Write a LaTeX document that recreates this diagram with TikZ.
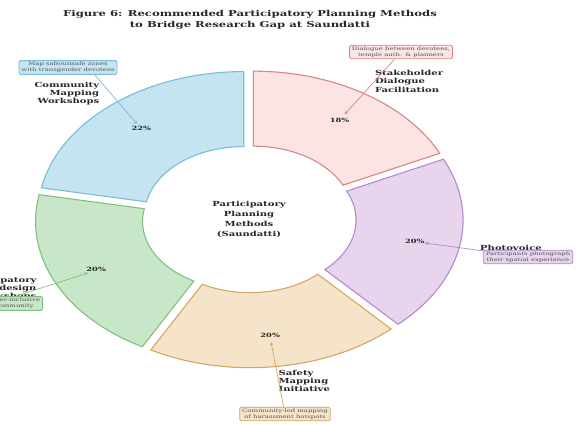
\documentclass[tikz,border=0pt]{standalone}
\usepackage{fontspec}
\setmainfont{DejaVu Serif}[FakeStretch=1.43]
\usetikzlibrary{arrows.meta,calc}
\definecolor{bluef}{HTML}{C3E4F0}\definecolor{bluee}{HTML}{7BBCD6}
\definecolor{pinkf}{HTML}{FCE4E4}\definecolor{pinke}{HTML}{D98585}
\definecolor{purpf}{HTML}{E8D4EC}\definecolor{purpe}{HTML}{B08CCC}
\definecolor{oranf}{HTML}{F6E4CA}\definecolor{orane}{HTML}{D4A660}
\definecolor{greef}{HTML}{C8E6C8}\definecolor{greee}{HTML}{80BF80}
\definecolor{txt}{HTML}{262626}
\definecolor{notetxt}{HTML}{555555}
\newcommand\pieseg[4]{%
  \pgfmathsetmacro\ox{249+8.24*cos(#3)}%
  \pgfmathsetmacro\oy{204+5.72*sin(#3)}%
  \draw[seg,draw=#4e,fill=#4f] ({\ox+206*cos(#1)},{\oy+143*sin(#1)})
    arc[start angle=#1,end angle=#2,x radius=206,y radius=143]
    -- ({\ox+99*cos(#2)},{\oy+68*sin(#2)})
    arc[start angle=#2,end angle=#1,x radius=99,y radius=68] -- cycle;}
\tikzset{
  seg/.style={line width=1.1pt,line join=miter},
  pct/.style={font=\fontsize{5.8}{7}\selectfont\bfseries,text=txt,inner sep=0pt},
  cat/.style={font=\fontsize{7}{8.2}\selectfont\bfseries,text=txt,inner sep=0pt},
  note/.style={font=\fontsize{4.8}{6}\selectfont,text=notetxt,align=center,
    rounded corners=1.5pt,inner xsep=2.5pt,inner ysep=1.5pt,line width=0.8pt},
  arr/.style={line width=0.7pt,-{Straight Barb[length=2.5pt,width=3pt]}},
}
\begin{document}
\begin{tikzpicture}[x=1pt,y=1pt]
\useasboundingbox (0,0) rectangle (586,423);
\coordinate (c) at (249,204);
% wedges
\pieseg{25.2}{90}{57.6}{pink}
\pieseg{-46.8}{25.2}{-10.8}{purp}
\pieseg{-118.8}{-46.8}{-82.8}{oran}
\pieseg{169.2}{241.2}{205.2}{gree}
\pieseg{90}{169.2}{129.6}{blue}
% title
\node[font=\fontsize{8.15}{10.8}\selectfont\bfseries,text=txt,align=center,inner sep=0pt] (title) at (250,403)
  {Figure 6: Recommended Participatory Planning Methods\\to Bridge Research Gap at Saundatti};
% centre
\node[font=\fontsize{7}{10}\selectfont\bfseries,text=txt,align=center,inner sep=0pt] (ctr) at (c)
  {Participatory\\Planning\\Methods\\(Saundatti)};
% percentages
\node[pct] (p1) at ($(c)+(57.6:168.9 and 117.3)$) {18\%};
\node[pct] (p2) at ($(c)+(-10.8:168.9 and 117.3)$) {20\%};
\node[pct] (p3) at ($(c)+(-82.8:168.9 and 117.3)$) {20\%};
\node[pct] (p4) at ($(c)+(205.2:168.9 and 117.3)$) {20\%};
\node[pct] (p5) at ($(c)+(129.6:168.9 and 117.3)$) {22\%};
% category labels
\node[cat,anchor=west,align=left] (l1) at ($(c)+(57.6:234.8 and 163)$) {Stakeholder\\Dialogue\\Facilitation};
\node[cat,anchor=west,align=left] (l2) at (480,175.5) {Photovoice};
\node[cat,anchor=west,align=left] (l3) at ($(c)+(-82.8:234.8 and 163)$) {Safety\\Mapping\\Initiative};
\node[cat,anchor=east,align=right] (l4) at ($(c)+(205.2:234.8 and 163)$) {Participatory\\Co-design\\Workshops};
\node[cat,anchor=east,align=right] (l5) at ($(c)+(129.6:234.8 and 163)$) {Community\\Mapping\\Workshops};
% arrow targets
\coordinate (t1) at (345,309);
\coordinate (t2) at (425,180);
\coordinate (t3) at (271,81);
\coordinate (t4) at (88,150);
\coordinate (t5) at (137,299);
% notes
\node[note,fill=pinkf,draw=pinke] (n1) at (401,371) {Dialogue between devotees,\\temple auth. \& planners};
\node[note,fill=purpf,draw=purpe] (n2) at (528,166) {Participants photograph\\their spatial experience};
\node[note,fill=oranf,draw=orane] (n3) at (285,9) {Community-led mapping\\of harassment hotspots};
\node[note,fill=greef,draw=greee,anchor=east] (n4) at (43,119.5) {Co-design gender-inclusive\\spaces with community};
\node[note,fill=bluef,draw=bluee] (n5) at (68,355.5) {Map safe/unsafe zones\\with transgender devotees};
\coordinate (s5) at ($(n5.south west)!0.77!(n5.south east)$);
% arrows
\draw[arr,draw=pinke] (n1) -- (t1);
\draw[arr,draw=purpe] (n2) -- (t2);
\draw[arr,draw=orane] (n3) -- (t3);
\draw[arr,draw=greee] (n4) -- (t4);
\draw[arr,draw=bluee] (s5) -- (t5);
\end{tikzpicture}
\end{document}
